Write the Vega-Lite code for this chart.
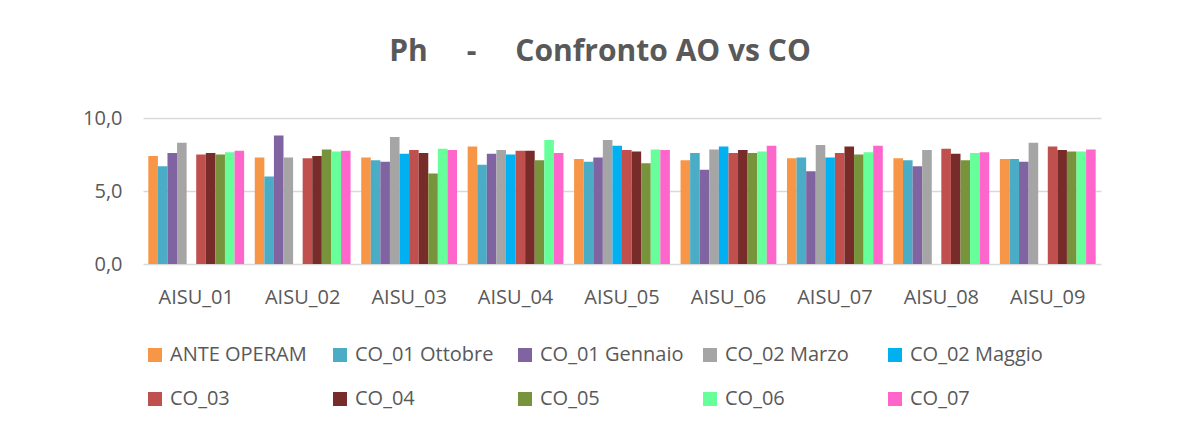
{
  "$schema": "https://vega.github.io/schema/vega-lite/v6.json",
  "width": 958,
  "height": 146,
  "autosize": "none",
  "padding": {"left": 143, "top": 118, "right": 85, "bottom": 165},
  "background": "white",
  "title": {
    "text": "Ph\u00a0\u00a0\u00a0\u00a0\u00a0-\u00a0\u00a0\u00a0\u00a0\u00a0Confronto AO vs CO",
    "font": "Open Sans",
    "fontSize": 30,
    "fontWeight": "bold",
    "color": "#595959",
    "anchor": "middle",
    "dx": -22,
    "offset": 41
  },
  "data": {
    "values": [
      {"stazione": "AISU_01", "serie": "ANTE OPERAM", "ph": 7.4},
      {"stazione": "AISU_01", "serie": "CO_01  Ottobre", "ph": 6.7},
      {"stazione": "AISU_01", "serie": "CO_01  Gennaio", "ph": 7.6},
      {"stazione": "AISU_01", "serie": "CO_02 Marzo", "ph": 8.3},
      {"stazione": "AISU_01", "serie": "CO_03", "ph": 7.5},
      {"stazione": "AISU_01", "serie": "CO_04", "ph": 7.6},
      {"stazione": "AISU_01", "serie": "CO_05", "ph": 7.5},
      {"stazione": "AISU_01", "serie": "CO_06", "ph": 7.65},
      {"stazione": "AISU_01", "serie": "CO_07", "ph": 7.75},

      {"stazione": "AISU_02", "serie": "ANTE OPERAM", "ph": 7.3},
      {"stazione": "AISU_02", "serie": "CO_01  Ottobre", "ph": 6.0},
      {"stazione": "AISU_02", "serie": "CO_01  Gennaio", "ph": 8.8},
      {"stazione": "AISU_02", "serie": "CO_02 Marzo", "ph": 7.3},
      {"stazione": "AISU_02", "serie": "CO_03", "ph": 7.25},
      {"stazione": "AISU_02", "serie": "CO_04", "ph": 7.4},
      {"stazione": "AISU_02", "serie": "CO_05", "ph": 7.85},
      {"stazione": "AISU_02", "serie": "CO_06", "ph": 7.7},
      {"stazione": "AISU_02", "serie": "CO_07", "ph": 7.75},

      {"stazione": "AISU_03", "serie": "ANTE OPERAM", "ph": 7.3},
      {"stazione": "AISU_03", "serie": "CO_01  Ottobre", "ph": 7.1},
      {"stazione": "AISU_03", "serie": "CO_01  Gennaio", "ph": 7.0},
      {"stazione": "AISU_03", "serie": "CO_02 Marzo", "ph": 8.7},
      {"stazione": "AISU_03", "serie": "CO_02 Maggio", "ph": 7.55},
      {"stazione": "AISU_03", "serie": "CO_03", "ph": 7.8},
      {"stazione": "AISU_03", "serie": "CO_04", "ph": 7.6},
      {"stazione": "AISU_03", "serie": "CO_05", "ph": 6.2},
      {"stazione": "AISU_03", "serie": "CO_06", "ph": 7.9},
      {"stazione": "AISU_03", "serie": "CO_07", "ph": 7.8},

      {"stazione": "AISU_04", "serie": "ANTE OPERAM", "ph": 8.05},
      {"stazione": "AISU_04", "serie": "CO_01  Ottobre", "ph": 6.8},
      {"stazione": "AISU_04", "serie": "CO_01  Gennaio", "ph": 7.55},
      {"stazione": "AISU_04", "serie": "CO_02 Marzo", "ph": 7.8},
      {"stazione": "AISU_04", "serie": "CO_02 Maggio", "ph": 7.5},
      {"stazione": "AISU_04", "serie": "CO_03", "ph": 7.75},
      {"stazione": "AISU_04", "serie": "CO_04", "ph": 7.75},
      {"stazione": "AISU_04", "serie": "CO_05", "ph": 7.1},
      {"stazione": "AISU_04", "serie": "CO_06", "ph": 8.5},
      {"stazione": "AISU_04", "serie": "CO_07", "ph": 7.6},

      {"stazione": "AISU_05", "serie": "ANTE OPERAM", "ph": 7.2},
      {"stazione": "AISU_05", "serie": "CO_01  Ottobre", "ph": 7.0},
      {"stazione": "AISU_05", "serie": "CO_01  Gennaio", "ph": 7.3},
      {"stazione": "AISU_05", "serie": "CO_02 Marzo", "ph": 8.5},
      {"stazione": "AISU_05", "serie": "CO_02 Maggio", "ph": 8.1},
      {"stazione": "AISU_05", "serie": "CO_03", "ph": 7.8},
      {"stazione": "AISU_05", "serie": "CO_04", "ph": 7.7},
      {"stazione": "AISU_05", "serie": "CO_05", "ph": 6.9},
      {"stazione": "AISU_05", "serie": "CO_06", "ph": 7.85},
      {"stazione": "AISU_05", "serie": "CO_07", "ph": 7.8},

      {"stazione": "AISU_06", "serie": "ANTE OPERAM", "ph": 7.1},
      {"stazione": "AISU_06", "serie": "CO_01  Ottobre", "ph": 7.6},
      {"stazione": "AISU_06", "serie": "CO_01  Gennaio", "ph": 6.45},
      {"stazione": "AISU_06", "serie": "CO_02 Marzo", "ph": 7.85},
      {"stazione": "AISU_06", "serie": "CO_02 Maggio", "ph": 8.05},
      {"stazione": "AISU_06", "serie": "CO_03", "ph": 7.6},
      {"stazione": "AISU_06", "serie": "CO_04", "ph": 7.8},
      {"stazione": "AISU_06", "serie": "CO_05", "ph": 7.6},
      {"stazione": "AISU_06", "serie": "CO_06", "ph": 7.7},
      {"stazione": "AISU_06", "serie": "CO_07", "ph": 8.1},

      {"stazione": "AISU_07", "serie": "ANTE OPERAM", "ph": 7.25},
      {"stazione": "AISU_07", "serie": "CO_01  Ottobre", "ph": 7.3},
      {"stazione": "AISU_07", "serie": "CO_01  Gennaio", "ph": 6.35},
      {"stazione": "AISU_07", "serie": "CO_02 Marzo", "ph": 8.15},
      {"stazione": "AISU_07", "serie": "CO_02 Maggio", "ph": 7.3},
      {"stazione": "AISU_07", "serie": "CO_03", "ph": 7.6},
      {"stazione": "AISU_07", "serie": "CO_04", "ph": 8.05},
      {"stazione": "AISU_07", "serie": "CO_05", "ph": 7.5},
      {"stazione": "AISU_07", "serie": "CO_06", "ph": 7.65},
      {"stazione": "AISU_07", "serie": "CO_07", "ph": 8.1},

      {"stazione": "AISU_08", "serie": "ANTE OPERAM", "ph": 7.25},
      {"stazione": "AISU_08", "serie": "CO_01  Ottobre", "ph": 7.1},
      {"stazione": "AISU_08", "serie": "CO_01  Gennaio", "ph": 6.7},
      {"stazione": "AISU_08", "serie": "CO_02 Marzo", "ph": 7.8},
      {"stazione": "AISU_08", "serie": "CO_03", "ph": 7.9},
      {"stazione": "AISU_08", "serie": "CO_04", "ph": 7.55},
      {"stazione": "AISU_08", "serie": "CO_05", "ph": 7.1},
      {"stazione": "AISU_08", "serie": "CO_06", "ph": 7.6},
      {"stazione": "AISU_08", "serie": "CO_07", "ph": 7.65},

      {"stazione": "AISU_09", "serie": "ANTE OPERAM", "ph": 7.2},
      {"stazione": "AISU_09", "serie": "CO_01  Ottobre", "ph": 7.2},
      {"stazione": "AISU_09", "serie": "CO_01  Gennaio", "ph": 7.0},
      {"stazione": "AISU_09", "serie": "CO_02 Marzo", "ph": 8.3},
      {"stazione": "AISU_09", "serie": "CO_03", "ph": 8.05},
      {"stazione": "AISU_09", "serie": "CO_04", "ph": 7.8},
      {"stazione": "AISU_09", "serie": "CO_05", "ph": 7.7},
      {"stazione": "AISU_09", "serie": "CO_06", "ph": 7.7},
      {"stazione": "AISU_09", "serie": "CO_07", "ph": 7.85}
    ]
  },
  "mark": {"type": "bar"},
  "encoding": {
    "x": {
      "field": "stazione",
      "type": "nominal",
      "title": null,
      "scale": {"paddingInner": 0.1, "paddingOuter": 0.05},
      "axis": {
        "labelAngle": 0,
        "domain": false,
        "ticks": false,
        "labelPadding": 23,
        "labelFont": "Open Sans",
        "labelFontSize": 20,
        "labelColor": "#595959"
      }
    },
    "xOffset": {
      "field": "serie",
      "type": "nominal",
      "sort": ["ANTE OPERAM", "CO_01  Ottobre", "CO_01  Gennaio", "CO_02 Marzo", "CO_02 Maggio", "CO_03", "CO_04", "CO_05", "CO_06", "CO_07"],
      "scale": {"paddingInner": 0, "paddingOuter": 0}
    },
    "y": {
      "field": "ph",
      "type": "quantitative",
      "title": null,
      "scale": {"domain": [0, 10]},
      "axis": {
        "values": [0, 5, 10],
        "labelExpr": "replace(format(datum.value, '.1f'), '.', ',')",
        "domain": false,
        "ticks": false,
        "labelPadding": 21,
        "labelFont": "Open Sans",
        "labelFontSize": 20,
        "labelColor": "#595959",
        "gridColor": "#D9D9D9",
        "gridWidth": 1.5
      }
    },
    "color": {
      "field": "serie",
      "type": "nominal",
      "title": null,
      "sort": ["ANTE OPERAM", "CO_01  Ottobre", "CO_01  Gennaio", "CO_02 Marzo", "CO_02 Maggio", "CO_03", "CO_04", "CO_05", "CO_06", "CO_07"],
      "scale": {
        "domain": ["ANTE OPERAM", "CO_01  Ottobre", "CO_01  Gennaio", "CO_02 Marzo", "CO_02 Maggio", "CO_03", "CO_04", "CO_05", "CO_06", "CO_07"],
        "range": ["#F79646", "#4BACC6", "#8064A2", "#A5A5A5", "#00B0F0", "#C0504D", "#772C2A", "#77933C", "#66FF99", "#FF66CC"]
      },
      "legend": {
        "orient": "none",
        "legendX": 2,
        "legendY": 227,
        "direction": "horizontal",
        "columns": 5,
        "gridAlign": "all",
        "columnPadding": 11,
        "rowPadding": 24,
        "symbolType": "square",
        "symbolSize": 196,
        "symbolStrokeWidth": 0,
        "symbolOffset": 0,
        "labelOffset": 5,
        "labelFont": "Open Sans",
        "labelFontSize": 20,
        "labelColor": "#595959",
        "labelLimit": 300
      }
    }
  },
  "config": {
    "view": {"stroke": null}
  }
}
